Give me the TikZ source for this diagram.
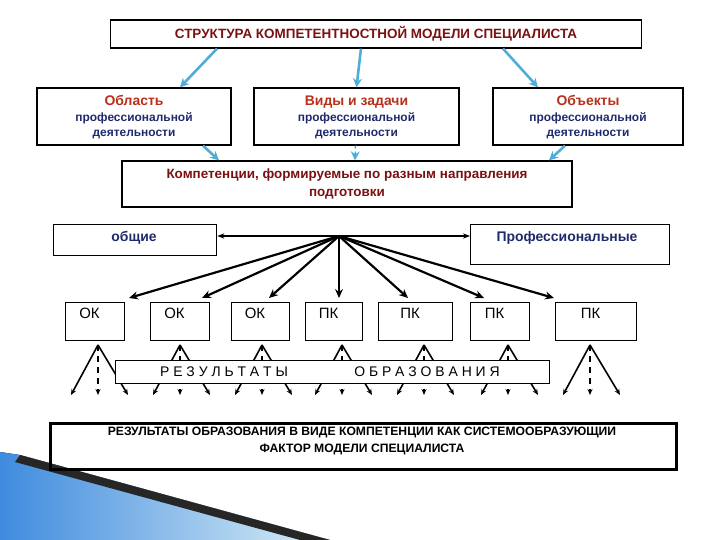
\documentclass[tikz,border=0pt]{standalone}
\usepackage{fontspec}
\setmainfont{Liberation Sans}
\usetikzlibrary{arrows.meta}
\definecolor{dred}{HTML}{7A1010}
\definecolor{ored}{HTML}{B8301A}
\definecolor{dblue}{HTML}{1F2A6B}
\definecolor{lblue}{HTML}{4FAED6}
\begin{document}
\begin{tikzpicture}[x={(1bp,0)},y={(0,-1bp)},
 box/.style={draw,line width=1.3pt,align=center,inner sep=2pt,font=\bfseries},
 barr/.style={draw=lblue,line width=2.6pt,-{Stealth[length=9pt,width=9pt]}},
 karr/.style={line width=2.2pt,-{Stealth[length=9pt,width=8pt]}},
 sarr/.style={line width=1.6pt,-{Stealth[length=6pt,width=5pt]}}]
\useasboundingbox (0,0) rectangle (720,540);
% ribbon decoration
\fill[left color=lblue!80!blue,right color=lblue!20] (0,452) -- (20,455) -- (330,540) -- (0,540) -- cycle;
\fill[black!85] (20,455) -- (330,540) -- (300,540) -- (15,462) -- cycle;
% top
\node[box,minimum width=531bp,minimum height=28bp,text=dred,font=\bfseries\fontsize{13.5}{15}\selectfont] (t) at (376,34) {СТРУКТУРА КОМПЕТЕНТНОСТНОЙ МОДЕЛИ СПЕЦИАЛИСТА};
\node[box,minimum width=194bp,minimum height=57bp] (a) at (134,116.5) {};
\node[box,minimum width=205bp,minimum height=57bp] (b) at (356.5,116.5) {};
\node[box,minimum width=190bp,minimum height=57bp] (c) at (588,116.5) {};
\foreach \n/\w in {a/Область,b/Виды и задачи,c/Объекты}{
 \node[align=center,font=\bfseries\fontsize{12}{15}\selectfont,text=dblue] (\n t) at ([yshift=-1bp]\n.center) {{\fontsize{14}{16}\selectfont\color{ored}\w}\\[1pt]профессиональной\\деятельности};}
\node[box,minimum width=450bp,minimum height=46bp,text=dred,font=\bfseries\fontsize{13.5}{19}\selectfont] (k) at (347,184) {Компетенции, формируемые по разным направления\\подготовки};
\draw[barr] ([xshift=-159bp]t.south) -- ([xshift=46bp]a.north);
\draw[barr] ([xshift=-15bp]t.south) -- (b.north);
\draw[barr] ([xshift=127bp]t.south) -- ([xshift=-50bp]c.north);
\draw[barr] ([xshift=69bp]a.south) -- ([xshift=-128bp]k.north);
\draw[barr,dashed,line width=1.5pt] ([xshift=-1bp]b.south) -- ([xshift=8bp]k.north);
\draw[barr] ([xshift=-23bp]c.south) -- ([xshift=202bp]k.north);
% middle
\node[box,minimum width=163bp,minimum height=31bp,anchor=north west] (g) at (53,224) {};
\node[text=dblue,font=\bfseries\fontsize{14}{16}\selectfont] at (134,238) {общие};
\node[box,minimum width=199bp,minimum height=40bp,anchor=north west] (p) at (470,224) {};
\node[text=dblue,font=\bfseries\fontsize{14}{16}\selectfont] at (567,238) {Профессиональные};
\coordinate (h) at (339,236);
\draw[line width=1.3pt,{Stealth[length=7pt]}-{Stealth[length=7pt]}] (g.east |- h) -- (p.west |- h);
\foreach \i/\l/\r/\tx/\txt in {1/65/124/129/ОК,2/150/209/202/ОК,3/231/289/269/ОК,4/305/362/339/ПК,5/378/452/408/ПК,6/470/529/484/ПК,7/555/636/554/ПК}{
 \node[box,minimum width={(\r-\l)*1bp},minimum height=38bp,anchor=north west] (o\i) at (\l,302) {};
 \node[font=\fontsize{15}{17}\selectfont] at ({(\l+\r)/2-5},313) {\txt};
 \coordinate (e\i) at (\tx,298);
 \draw[karr] (h) -- (e\i);
}
\foreach \i/\x in {1/98,2/180,3/262,4/342,5/424,6/508,7/590}{
 \coordinate (ap\i) at (\x,345);
 \coordinate (l\i) at (\x-27,395);
 \coordinate (r\i) at (\x+30,395);
 \coordinate (m\i) at (\x,395);
 \draw[sarr] (ap\i) -- (l\i);
 \draw[sarr] (ap\i) -- (r\i);
 \draw[sarr,dash pattern=on 6pt off 5pt] (ap\i) -- (m\i);
}
\node[box,fill=white,minimum width=434bp,minimum height=23bp,anchor=north west] (rb) at (115,360) {};
\node[font=\fontsize{14}{16}\selectfont] at (224,372) {Р\ Е\ З\ У\ Л\ Ь\ Т\ А\ Т\ Ы};
\node[font=\fontsize{14}{16}\selectfont] at (427,372) {О\ Б\ Р\ А\ З\ О\ В\ А\ Н\ И\ Я};
% bottom
\node[box,line width=3pt,minimum width=626bp,minimum height=46bp,anchor=north west] (fb) at (49,422) {};
\node[align=center,font=\bfseries\fontsize{12.2}{17}\selectfont] at (362,441) {РЕЗУЛЬТАТЫ ОБРАЗОВАНИЯ В ВИДЕ КОМПЕТЕНЦИИ КАК СИСТЕМООБРАЗУЮЩИИ\\ФАКТОР МОДЕЛИ СПЕЦИАЛИСТА};
\end{tikzpicture}
\end{document}
